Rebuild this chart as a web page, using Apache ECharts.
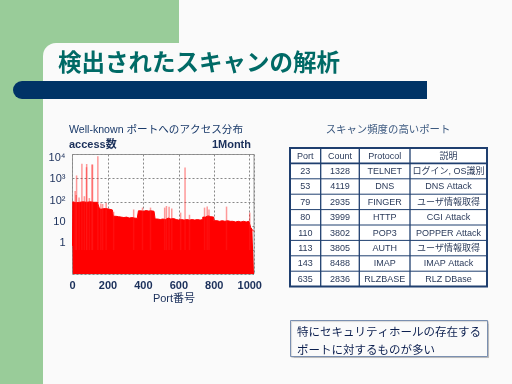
<!DOCTYPE html>
<html><head><meta charset="utf-8">
<script src="https://cdn.jsdelivr.net/npm/echarts@6/dist/echarts.min.js"></script>
<style>html,body{margin:0;padding:0;background:#fafafa}#c{width:512px;height:384px}</style>
</head><body><div id="c"></div>
<script>
// ---- chart data ----
var profilePorts  = [0,2,10,20,30,40,50,60,70,80,90,100,110,120,130,140,150,153,165,175,185,195,205,215,225,230,245,260,275,290,305,320,335,350,365,372,385,400,415,430,445,460,466,480,495,510,525,540,555,570,585,600,615,630,645,660,675,690,705,720,735,750,765,780,797,815,830,845,860,875,890,905,920,935,950,965,980,995,1005,1015,1024];
var profileValues = [1.5,105,95,110,100,115,105,110,100,112,105,108,100,110,100,105,95,52,50,55,48,52,50,48,50,26,25,24,23,24,22,23,22,21,22,44,42,45,43,44,42,44,20,19,20,19,22,20,21,19,18,19,18,19,18,19,18,19,18,19,24,27,25,24,17,16,17,16,17,16,16,15,16,15,16,15,16,15,9,7,6];
var spikePorts  = [15,21,23,37,53,67,79,80,95,110,113,143,160,170,190,232,345,395,440,520,530,545,560,610,635,660,745,760,770,869,1000];
var spikeValues = [300,200,1328,160,4119,180,2935,3999,150,3802,3805,8488,90,85,95,40,50,60,60,60,70,65,55,37,2836,30,60,66,50,66,37];
var yTickLabels = ['10\u2074','10\u00B3','10\u00B2','10','1'];
var xTickLabels = ['0','200','400','600','800','1000'];

// ---- table data ----
var tableHeader = ['Port','Count','Protocol','説明'];
var tPorts  = ['23','53','79','80','110','113','143','635'];
var tCounts = ['1328','4119','2935','3999','3802','3805','8488','2836'];
var tProtos = ['TELNET','DNS','FINGER','HTTP','POP3','AUTH','IMAP','RLZBASE'];
var tDescs  = ['ログイン, OS識別','DNS Attack','ユーザ情報取得','CGI Attack','POPPER Attack','ユーザ情報取得','IMAP Attack','RLZ DBase'];

var FONT = "'Liberation Sans','Noto Sans CJK JP',sans-serif";
var chart = echarts.init(document.getElementById('c'), null, {renderer:'canvas'});

var profile = profilePorts.map(function(p,i){return [p, profileValues[i]];});
var spikes = spikePorts.map(function(p,i){return [p, spikeValues[i]];});

// graphics
var g = [];
g.push({type:'rect', z:-10, shape:{x:0,y:0,width:179,height:60}, style:{fill:'#99cc99'}});
g.push({type:'rect', z:-10, shape:{x:0,y:0,width:43,height:384}, style:{fill:'#99cc99'}});
g.push({type:'rect', z:-9, shape:{x:43,y:43,width:469,height:341,r:[13,0,0,0]}, style:{fill:'#fafafa'}});
g.push({type:'rect', z:-8, shape:{x:13,y:81,width:414,height:18,r:[9,0,0,9]}, style:{fill:'#003366'}});
g.push({type:'text', z:5, x:58, y:62, style:{text:'検出されたスキャンの解析', font:"bold 23.5px 'Noto Sans CJK JP',sans-serif", fill:'#006a66', textVerticalAlign:'middle'}});

g.push({type:'text', z:5, x:69, y:130, style:{text:'Well-known ポートへのアクセス分布', font:"10.6px "+FONT, fill:'#1a3a6a', textVerticalAlign:'middle'}});
g.push({type:'text', z:5, x:69, y:145, style:{text:'access数', font:"bold 11px "+FONT, fill:'#1a2f5a', textVerticalAlign:'middle'}});
g.push({type:'text', z:5, x:251, y:145, style:{text:'1Month', font:"bold 11px "+FONT, fill:'#1a2f5a', textAlign:'right', textVerticalAlign:'middle'}});
g.push({type:'text', z:5, x:174, y:299, style:{text:'Port番号', font:"11px "+FONT, fill:'#1a2f5a', textAlign:'center', textVerticalAlign:'middle'}});

// table
var colX = [290,320.7,359.3,410,487];
var rowTop = 148, rowH = 15.4, nRows = tPorts.length + 1;
var tLeft = colX[0], tRight = colX[4], tBottom = rowTop + rowH*nRows;
g.push({type:'text', z:5, x:388, y:130, style:{text:'スキャン頻度の高いポート', font:"10.4px "+FONT, fill:'#3d5a80', textAlign:'center', textVerticalAlign:'middle'}});
g.push({type:'rect', z:4, shape:{x:tLeft,y:rowTop,width:tRight-tLeft,height:tBottom-rowTop}, style:{fill:'#ffffff', stroke:'#1f3f6f', lineWidth:2}});
for (var r=1; r<nRows; r++){
  var yy = rowTop + rowH*r;
  g.push({type:'line', z:5, shape:{x1:tLeft,y1:yy,x2:tRight,y2:yy}, style:{stroke:'#1f3f6f', lineWidth: r===1?1.6:1}});
}
for (var c=1; c<4; c++){
  g.push({type:'line', z:5, shape:{x1:colX[c],y1:rowTop,x2:colX[c],y2:tBottom}, style:{stroke:'#1f3f6f', lineWidth:1.3}});
}
var cols = [tPorts,tCounts,tProtos,tDescs];
for (var c2=0; c2<4; c2++){
  var cx = (colX[c2]+colX[c2+1])/2;
  g.push({type:'text', z:6, x:cx, y:rowTop+rowH/2+0.5, style:{text:tableHeader[c2], font:"9px "+FONT, fill:'#2a3a5a', textAlign:'center', textVerticalAlign:'middle'}});
  for (var r2=0; r2<cols[c2].length; r2++){
    g.push({type:'text', z:6, x:cx, y:rowTop+rowH*(r2+1)+rowH/2+0.5, style:{text:cols[c2][r2], font:"9px "+FONT, fill:'#2a3a5a', textAlign:'center', textVerticalAlign:'middle'}});
  }
}
// note box
g.push({type:'rect', z:3, shape:{x:290.5,y:320.5,width:197,height:36}, style:{fill:'#fafafa', stroke:'#7a8fb0', lineWidth:1, shadowColor:'rgba(0,0,0,0.15)', shadowOffsetX:1, shadowOffsetY:1, shadowBlur:1}});
g.push({type:'text', z:6, x:297, y:331.5, style:{text:'特にセキュリティホールの存在する', font:"11.5px 'Noto Sans CJK JP',sans-serif", fill:'#0d2050', textVerticalAlign:'middle'}});
g.push({type:'text', z:6, x:297, y:349.5, style:{text:'ポートに対するものが多い', font:"11.5px 'Noto Sans CJK JP',sans-serif", fill:'#0d2050', textVerticalAlign:'middle'}});

// y label positions (the reference's labels sit on a slightly tighter spacing than the grid)
var yLabelPos = [116, 95, 73.5, 52, 31];

chart.setOption({
  backgroundColor:'#fafafa',
  animation:false,
  textStyle:{fontFamily:FONT},
  grid:{left:72.5, top:154.5, width:181.5, height:119.5, show:true, borderColor:'#999', borderWidth:1, backgroundColor:'#fdfdfd'},
  xAxis:{type:'value', min:0, max:1024, interval:200,
    axisLine:{show:false}, axisTick:{show:false},
    axisLabel:{fontSize:11, fontWeight:'bold', color:'#1a2f5a', margin:6, fontFamily:FONT,
      formatter:function(v){ var i = v/200; return xTickLabels[i] !== undefined ? xTickLabels[i] : ''; }},
    splitLine:{show:true, lineStyle:{color:'#888', type:[2,2], width:1}}},
  yAxis:[
    {type:'log', logBase:10, min:0.1, max:10000,
      axisLine:{show:false}, axisTick:{show:false}, axisLabel:{show:false},
      splitLine:{show:true, lineStyle:{color:'#888', type:[2,2], width:1}}},
    {type:'value', min:0, max:119.5, position:'left',
      axisLine:{show:false}, axisTick:{show:false}, splitLine:{show:false},
      axisLabel:{customValues:yLabelPos, fontSize:11, color:'#1a2f5a', margin:7, fontFamily:FONT,
        formatter:function(v){ var i = yLabelPos.indexOf(v); return i>=0 ? yTickLabels[i] : ''; }}}
  ],
  series:[
    {type:'line', step:'end', data:profile, symbol:'none', yAxisIndex:0,
      lineStyle:{color:'#ff0000', width:1}, areaStyle:{color:'#ff0000', opacity:1, origin:'start'}, z:2},
    {type:'bar', data:spikes, yAxisIndex:0, barWidth:1.5, itemStyle:{color:'rgba(255,30,30,0.45)'}, z:3}
  ],
  graphic:g
});
</script></body></html>
